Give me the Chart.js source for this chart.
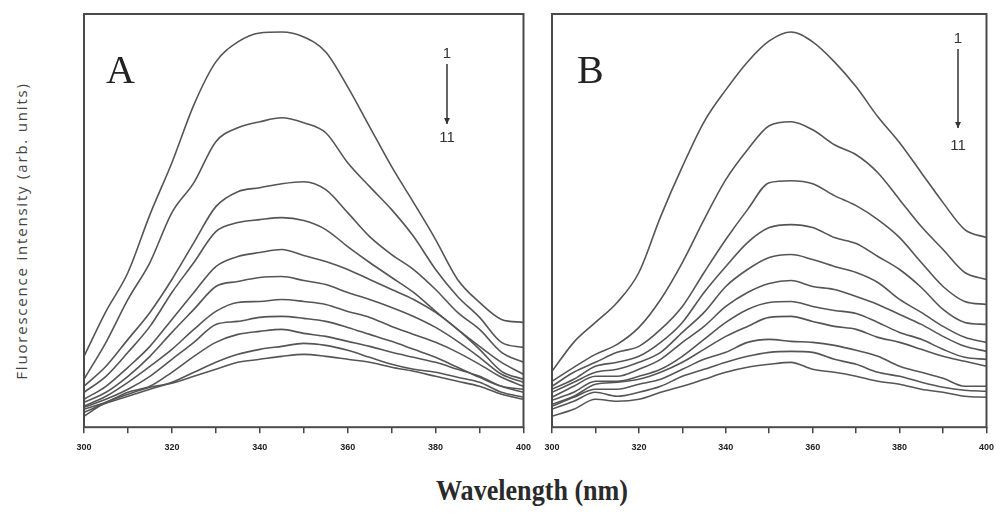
<!DOCTYPE html>
<html>
<head>
<meta charset="utf-8">
<script src="https://cdn.jsdelivr.net/npm/chart.js@4.4.1/dist/chart.umd.min.js"></script>
<style>
  body { margin: 0; background: #fff; width: 1003px; height: 513px; overflow: hidden; position: relative; }
  .cv { position: absolute; top: 0; }
  #chartA { left: 60px; }
  #chartB { left: 530px; }
  .ytitle {
    position: absolute; left: 21px; top: 231px;
    transform: translate(-50%, -50%) rotate(-90deg);
    font-family: "Open Sans", "DejaVu Sans", sans-serif; font-size: 15px;
    letter-spacing: 1.8px; color: #444; white-space: nowrap;
  }
  .xtitle {
    position: absolute; left: 532px; top: 490px;
    transform: translate(-50%, -50%) scaleX(0.9);
    font-family: "Liberation Serif", serif; font-size: 29px; font-weight: bold;
    color: #2a2a2a; white-space: nowrap;
  }
</style>
</head>
<body>
<canvas id="chartA" class="cv" width="480" height="462"></canvas>
<canvas id="chartB" class="cv" width="473" height="462"></canvas>
<div class="ytitle">Fluorescence intensity (arb. units)</div>
<div class="xtitle">Wavelength (nm)</div>
<script>
// wavelength grid (nm)
var wl = [300,305,310,315,320,325,330,335,340,345,350,355,360,365,370,375,380,385,390,395,400];
var xTicks = [300,320,340,360,380,400];

// panel A, curves 1..11 (arb. units)
var a1  = [71,116,155,213,265,323,366,386,395,396,391,376,341,301,261,225,188,148,125,108,105];
var a2  = [48,85,128,165,215,245,286,300,306,310,305,295,265,241,218,191,158,131,110,85,80];
var a3  = [41,61,88,115,148,185,221,236,240,244,246,238,215,191,173,158,138,115,98,75,65];
var a4  = [35,51,75,101,135,165,196,205,208,210,207,198,181,165,150,135,116,98,81,65,53];
var a5  = [28,41,60,81,108,135,161,171,175,178,172,166,158,148,138,128,115,98,78,56,48];
var a6  = [25,35,51,71,95,118,141,146,150,151,147,143,135,128,120,111,100,86,70,53,45];
var a7  = [21,31,45,61,78,98,116,125,126,128,126,123,116,110,101,93,85,75,63,50,41];
var a8  = [20,28,38,51,68,85,103,106,110,111,109,106,100,93,86,78,70,60,50,41,38];
var a9  = [18,25,35,41,55,71,85,93,96,98,94,91,86,81,75,70,65,58,51,41,35];
var a10 = [15,24,31,38,45,55,65,73,78,81,84,82,77,70,63,58,55,50,45,35,30];
var a11 = [11,25,33,40,44,51,58,65,68,71,73,71,68,65,60,56,51,46,41,33,28];

// panel B, curves 1..11 (arb. units)
var b1  = [56,85,105,125,155,211,261,306,338,366,387,396,386,366,341,311,285,255,225,198,190];
var b2  = [46,60,73,83,100,128,165,208,248,278,302,306,298,283,273,255,228,201,178,155,148];
var b3  = [41,55,65,75,81,98,121,155,188,218,245,247,244,232,222,208,190,165,141,126,123];
var b4  = [38,48,61,65,71,85,105,135,161,185,200,203,200,190,184,171,158,140,118,105,103];
var b5  = [35,45,55,58,65,75,95,115,141,158,170,173,168,161,155,145,128,115,101,90,85];
var b6  = [30,41,51,51,58,68,85,101,121,135,144,147,141,138,131,123,113,103,91,81,76];
var b7  = [27,35,46,46,51,58,71,88,105,118,125,126,121,117,114,105,95,88,78,70,68];
var b8  = [23,31,43,45,48,55,65,78,91,101,110,111,106,101,98,90,85,78,71,66,61];
var b9  = [21,30,38,38,43,48,58,68,75,85,88,86,85,82,77,71,61,55,49,41,41];
var b10 = [18,26,35,31,35,41,51,58,65,71,75,76,75,68,63,55,51,45,40,37,36];
var b11 = [11,18,28,26,28,35,41,48,55,60,63,65,58,55,51,46,43,38,35,31,30];

var seriesA = [a1,a2,a3,a4,a5,a6,a7,a8,a9,a10,a11];
var seriesB = [b1,b2,b3,b4,b5,b6,b7,b8,b9,b10,b11];

function toPoints(arr) {
  return arr.map(function (v, i) { return {x: wl[i], y: v}; });
}

// frame, panel letter and the 1 -> 11 arrow
var panelMarks = {
  id: 'panelMarks',
  afterDraw: function (chart, args, opts) {
    var ctx = chart.ctx;
    var ca = chart.chartArea;
    ctx.save();
    ctx.strokeStyle = '#4a4a4a';
    ctx.lineWidth = 2;
    ctx.strokeRect(ca.left, ca.top, ca.right - ca.left, ca.bottom - ca.top);

    ctx.fillStyle = '#222';
    ctx.font = '40px "Liberation Serif", serif';
    ctx.textBaseline = 'alphabetic';
    ctx.textAlign = 'left';
    ctx.fillText(opts.letter, opts.letterX, opts.letterY);

    ctx.font = '15px "Liberation Sans", sans-serif';
    ctx.textAlign = 'center';
    ctx.fillStyle = '#333';
    ctx.fillText('1', opts.arrowX, opts.oneY);
    ctx.fillText('11', opts.arrowX, opts.elevenY);
    ctx.strokeStyle = '#333';
    ctx.lineWidth = 1.5;
    ctx.beginPath();
    ctx.moveTo(opts.arrowX, opts.lineTop);
    ctx.lineTo(opts.arrowX, opts.lineBottom);
    ctx.stroke();
    ctx.beginPath();
    ctx.moveTo(opts.arrowX - 3, opts.lineBottom - 6);
    ctx.lineTo(opts.arrowX + 3, opts.lineBottom - 6);
    ctx.lineTo(opts.arrowX, opts.lineBottom);
    ctx.closePath();
    ctx.fill();
    ctx.restore();
  }
};

function makeChart(id, series, padLeft, padRight, marks) {
  var datasets = series.map(function (s, i) {
    return {
      label: String(i + 1),
      data: toPoints(s),
      borderColor: '#555',
      borderWidth: 1.6,
      pointRadius: 0,
      fill: false,
      cubicInterpolationMode: 'monotone'
    };
  });
  return new Chart(document.getElementById(id), {
    type: 'line',
    data: {datasets: datasets},
    plugins: [panelMarks],
    options: {
      responsive: false,
      animation: false,
      layout: {padding: {left: padLeft, right: padRight, top: 14, bottom: 0}},
      plugins: {
        legend: {display: false},
        tooltip: {enabled: false},
        panelMarks: marks
      },
      scales: {
        x: {
          type: 'linear',
          min: 300,
          max: 400,
          border: {display: false},
          grid: {drawOnChartArea: false, tickLength: 6, color: '#444', lineWidth: 1.5},
          ticks: {
            stepSize: 10,
            maxRotation: 0,
            padding: 9,
            color: '#222',
            font: {family: '"Liberation Sans", sans-serif', size: 9, weight: 'bold'},
            callback: function (v) { return xTicks.indexOf(v) >= 0 ? String(v) : ''; }
          }
        },
        y: {
          display: false,
          min: 0,
          max: 414
        }
      }
    }
  });
}

makeChart('chartA', seriesA, 24, 16, {
  letter: 'A', letterX: 46, letterY: 83,
  arrowX: 387, oneY: 58, lineTop: 64, lineBottom: 124, elevenY: 142
});
makeChart('chartB', seriesB, 22, 9, {
  letter: 'B', letterX: 47, letterY: 83,
  arrowX: 428, oneY: 43, lineTop: 49, lineBottom: 128, elevenY: 150
});
</script>
</body>
</html>
